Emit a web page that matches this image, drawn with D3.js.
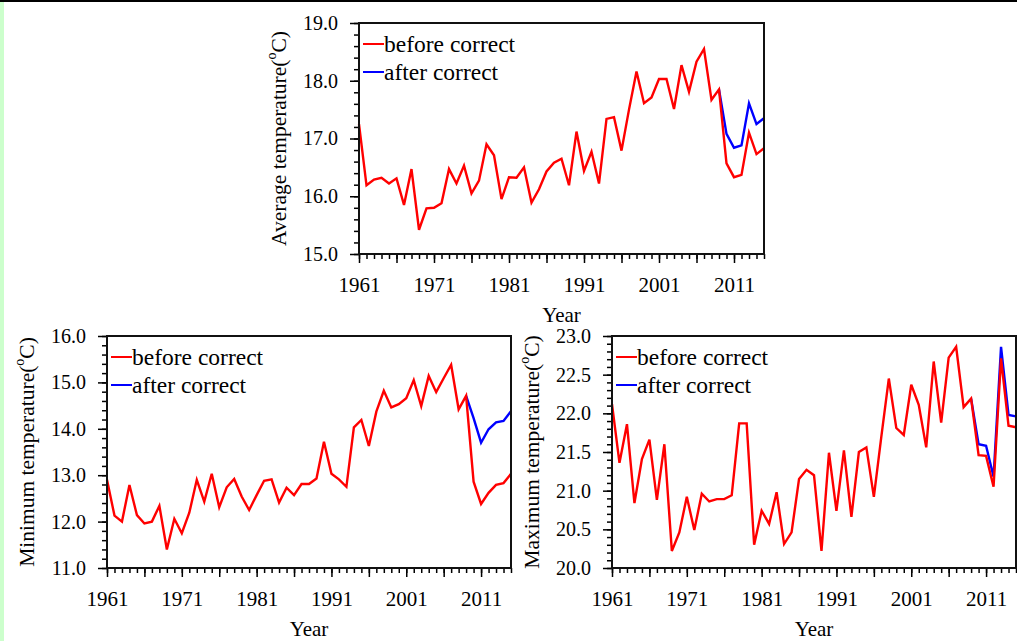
<!DOCTYPE html>
<html>
<head>
<meta charset="utf-8">
<script src="https://cdn.jsdelivr.net/npm/d3@7"></script>
<style>
  body { margin: 0; background: #fff; }
  text { font-family: "Liberation Serif", "Times New Roman", serif; fill: #000; }
</style>
</head>
<body>
<svg id="chart" width="1017" height="641"></svg>
<script>
var years = d3.range(1961, 2016);
var corrYears = [2009, 2010, 2011, 2012, 2013, 2014, 2015];
var legendLabels = ["before correct", "after correct"];

var avgBefore = [17.25, 16.19, 16.29, 16.32, 16.22, 16.31, 15.85, 16.47, 15.42, 15.79,
  15.80, 15.88, 16.47, 16.22, 16.53, 16.05, 16.27, 16.90, 16.71, 15.95,
  16.33, 16.32, 16.50, 15.89, 16.12, 16.43, 16.58, 16.65, 16.19, 17.12,
  16.44, 16.77, 16.22, 17.34, 17.37, 16.79, 17.50, 18.16, 17.61, 17.71,
  18.03, 18.03, 17.51, 18.27, 17.81, 18.33, 18.55, 17.67, 17.85, 16.57,
  16.33, 16.37, 17.10, 16.73, 16.83];
var avgAfter = [17.85, 17.08, 16.84, 16.88, 17.61, 17.25, 17.35];

var minBefore = [12.90, 12.13, 12.00, 12.79, 12.14, 11.96, 12.00, 12.34, 11.40, 12.06,
  11.75, 12.19, 12.90, 12.43, 13.03, 12.31, 12.74, 12.92, 12.54, 12.25,
  12.57, 12.88, 12.91, 12.41, 12.73, 12.57, 12.81, 12.81, 12.93, 13.72,
  13.03, 12.91, 12.75, 14.03, 14.19, 13.63, 14.37, 14.82, 14.46, 14.53,
  14.66, 15.05, 14.49, 15.14, 14.79, 15.09, 15.38, 14.42, 14.71, 12.86,
  12.38, 12.62, 12.79, 12.83, 13.03];
var minAfter = [14.71, 14.23, 13.70, 13.99, 14.14, 14.17, 14.38];

var maxBefore = [22.12, 21.36, 21.86, 20.84, 21.41, 21.66, 20.88, 21.60, 20.22, 20.46,
  20.92, 20.49, 20.96, 20.86, 20.89, 20.89, 20.94, 21.87, 21.87, 20.30,
  20.74, 20.57, 20.98, 20.31, 20.46, 21.15, 21.27, 21.20, 20.22, 21.49,
  20.74, 21.52, 20.66, 21.50, 21.56, 20.92, 21.70, 22.45, 21.81, 21.72,
  22.37, 22.11, 21.56, 22.67, 21.88, 22.72, 22.86, 22.08, 22.19, 21.46,
  21.45, 21.05, 22.71, 21.84, 21.82];
var maxAfter = [22.19, 21.60, 21.58, 21.18, 22.86, 21.98, 21.96];

var RED = "#ff0000", BLUE = "#0000ff";
var FONT = "Liberation Serif, Times New Roman, serif";

var svg = d3.select("#chart");

svg.append("rect").attr("width", 1017).attr("height", 641).attr("fill", "#fff");
svg.append("rect").attr("width", 4).attr("height", 641).attr("fill", "#ccffcc");
svg.append("rect").attr("width", 1017).attr("height", 2).attr("fill", "#000");

function drawPanel(p) {
  var g = svg.append("g").attr("transform", "translate(" + p.left + "," + p.top + ")");

  var x = d3.scaleLinear().domain([1961, 2015]).range([0, p.width]);
  var y = d3.scaleLinear().domain(p.yDomain).range([p.height, 0]);

  var yMajor = d3.range(p.yDomain[0], p.yDomain[1] + 1e-9, p.yStep);
  var yMinor = d3.range(p.yDomain[0], p.yDomain[1] + 1e-9, p.yMinor);
  var xMajor = d3.range(1961, 2012, 5);

  // minor ticks first, then the labelled ones
  g.append("g")
    .attr("transform", "translate(0," + p.height + ")")
    .call(d3.axisBottom(x).tickValues(years).tickSize(5).tickFormat(""))
    .call(a => a.select(".domain").remove());

  g.append("g")
    .attr("class", "x-axis")
    .attr("transform", "translate(0," + p.height + ")")
    .call(d3.axisBottom(x).tickValues(xMajor).tickSize(9).tickPadding(14)
      .tickFormat(d => (d - 1961) % 10 === 0 ? d : ""))
    .call(a => a.select(".domain").remove());

  g.append("g")
    .call(d3.axisLeft(y).tickValues(yMinor).tickSize(5).tickFormat(""))
    .call(a => a.select(".domain").remove());

  g.append("g")
    .attr("class", "y-axis")
    .call(d3.axisLeft(y).tickValues(yMajor).tickSize(9).tickPadding(12).tickFormat(d3.format(".1f")))
    .call(a => a.select(".domain").remove());

  g.selectAll(".tick line").attr("stroke", "#000").attr("stroke-width", 1.5);
  g.selectAll(".x-axis text").style("font-size", "21px").style("font-family", FONT);
  g.selectAll(".y-axis text").style("font-size", "20px").style("font-family", FONT);

  var line = d3.line().x(d => x(d[0])).y(d => y(d[1]));

  g.append("path")
    .datum(d3.zip(corrYears, p.after))
    .attr("d", line)
    .attr("fill", "none")
    .attr("stroke", BLUE)
    .attr("stroke-width", 2.4);

  g.append("path")
    .datum(d3.zip(years, p.before))
    .attr("d", line)
    .attr("fill", "none")
    .attr("stroke", RED)
    .attr("stroke-width", 2.4);

  g.append("rect")
    .attr("width", p.width)
    .attr("height", p.height)
    .attr("fill", "none")
    .attr("stroke", "#111")
    .attr("stroke-width", 2);

  var legend = g.selectAll(".legend")
    .data(legendLabels)
    .join("g")
    .attr("class", "legend")
    .attr("transform", (d, i) => "translate(0," + (21 + i * 28) + ")");

  legend.append("line")
    .attr("x1", 4).attr("x2", 25)
    .attr("stroke", (d, i) => i === 0 ? RED : BLUE)
    .attr("stroke-width", 2);

  legend.append("text")
    .attr("x", 25)
    .attr("y", 8)
    .style("font-family", FONT)
    .style("font-size", "23.5px")
    .text(d => d);

  g.append("text")
    .attr("x", p.width / 2)
    .attr("y", p.height + 68)
    .attr("text-anchor", "middle")
    .style("font-family", FONT)
    .style("font-size", "21px")
    .text("Year");

  var yl = g.append("text")
    .attr("transform", "translate(" + (-80) + "," + (p.height / 2) + ") rotate(-90)")
    .attr("text-anchor", "middle")
    .attr("dominant-baseline", "central")
    .style("font-family", FONT)
    .style("font-size", "21.5px");
  yl.append("tspan").text(p.label + "(");
  yl.append("tspan").attr("dy", -8).style("font-size", "14px").text("o");
  yl.append("tspan").attr("dy", 8).text("C)");
}

drawPanel({ left: 359, top: 23, width: 405, height: 231, yDomain: [15, 19], yStep: 1, yMinor: 0.2,
  before: avgBefore, after: avgAfter, label: "Average temperature" });
drawPanel({ left: 107, top: 336, width: 404, height: 232, yDomain: [11, 16], yStep: 1, yMinor: 0.2,
  before: minBefore, after: minAfter, label: "Minimum temperature" });
drawPanel({ left: 612, top: 336, width: 404, height: 232, yDomain: [20, 23], yStep: 0.5, yMinor: 0.1,
  before: maxBefore, after: maxAfter, label: "Maximum temperature" });
</script>
</body>
</html>
